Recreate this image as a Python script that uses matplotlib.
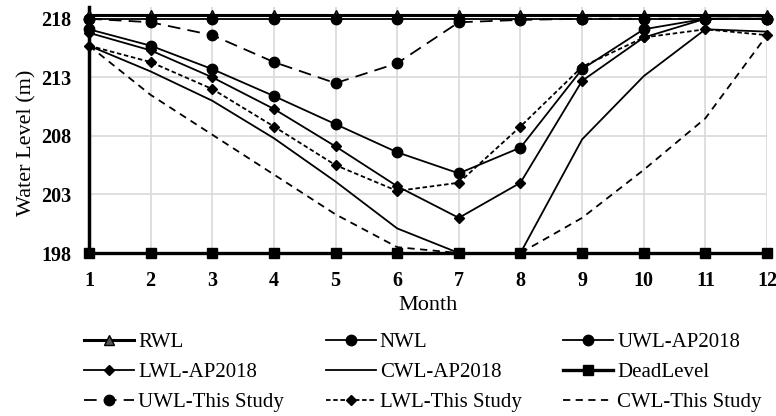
import matplotlib
matplotlib.use("Agg")
import matplotlib.pyplot as plt

# data
months = [1, 2, 3, 4, 5, 6, 7, 8, 9, 10, 11, 12]
rwl = [218.3, 218.3, 218.3, 218.3, 218.3, 218.3, 218.3, 218.3, 218.3, 218.3, 218.3, 218.3]
nwl = [218.0, 218.0, 218.0, 218.0, 218.0, 218.0, 218.0, 218.0, 218.0, 218.0, 218.0, 218.0]
uwl_ap = [217.1, 215.7, 213.7, 211.4, 209.0, 206.6, 204.8, 207.0, 213.7, 217.1, 218.0, 218.0]
lwl_ap = [216.8, 215.3, 213.0, 210.3, 207.1, 203.7, 201.0, 204.0, 212.7, 216.4, 218.0, 218.0]
cwl_ap = [215.7, 213.5, 211.0, 207.8, 204.1, 200.1, 198.0, 198.0, 207.7, 213.1, 217.1, 216.9]
dead = [198.0, 198.0, 198.0, 198.0, 198.0, 198.0, 198.0, 198.0, 198.0, 198.0, 198.0, 198.0]
uwl_this = [218.0, 217.7, 216.6, 214.3, 212.5, 214.2, 217.7, 217.9, 218.0, 218.0, 218.0, 218.0]
lwl_this = [215.7, 214.3, 212.0, 208.8, 205.5, 203.3, 204.0, 208.8, 213.9, 216.4, 217.1, 216.6]
cwl_this = [215.7, 211.5, 208.1, 204.7, 201.3, 198.5, 198.0, 198.0, 201.0, 205.1, 209.5, 216.6]
y_ticks = [198, 203, 208, 213, 218]

plt.rcParams["font.family"] = ["Liberation Serif", "DejaVu Serif"]

fig = plt.figure(figsize=(7.76, 4.16), dpi=100)
ax = fig.add_axes([0.1147, 0.3918, 0.8737, 0.5913])

k = "black"
h = {}
h["RWL"], = ax.plot(months, rwl, color=k, lw=2.2, marker="^", ms=7,
                    mfc="#555555", mec=k, label="RWL", zorder=3)
h["NWL"], = ax.plot(months, nwl, color=k, lw=1.3, marker="o", ms=7.5,
                    label="NWL", zorder=4)
h["UWL-AP2018"], = ax.plot(months, uwl_ap, color=k, lw=1.3, marker="o", ms=7.5,
                           label="UWL-AP2018", zorder=4)
h["LWL-AP2018"], = ax.plot(months, lwl_ap, color=k, lw=1.3, marker="D", ms=5,
                           label="LWL-AP2018", zorder=4)
h["CWL-AP2018"], = ax.plot(months, cwl_ap, color=k, lw=1.3, label="CWL-AP2018", zorder=4)
h["DeadLevel"], = ax.plot(months, dead, color=k, lw=2.4, marker="s", ms=7,
                          label="DeadLevel", zorder=5)
h["UWL-This Study"], = ax.plot(months, uwl_this, color=k, lw=1.3, marker="o", ms=7.5,
                               dashes=(7, 4), label="UWL-This Study", zorder=4)
h["LWL-This Study"], = ax.plot(months, lwl_this, color=k, lw=1.3, marker="D", ms=5,
                               dashes=(2.5, 1.5), label="LWL-This Study", zorder=4)
h["CWL-This Study"], = ax.plot(months, cwl_this, color=k, lw=1.3,
                               dashes=(4, 3), label="CWL-This Study", zorder=4)
for line in h.values():
    line.set_clip_on(False)

ax.set_xlim(1, 12)
ax.set_ylim(198, 219)
ax.set_xticks(months)
ax.set_yticks(y_ticks)
ax.grid(True, color="#d9d9d9", lw=1.2, zorder=0)
ax.set_axisbelow(True)
for s in ["top", "right", "bottom"]:
    ax.spines[s].set_visible(False)
ax.spines["left"].set_linewidth(2.5)
ax.tick_params(length=0, labelsize=14.5, pad=13)
for lab in ax.get_xticklabels() + ax.get_yticklabels():
    lab.set_fontweight("bold")

ax.set_xlabel("Month", fontsize=16)
ax.xaxis.set_label_coords(0.5, -0.175)
ax.set_ylabel("Water Level (m)", fontsize=16)
ax.yaxis.set_label_coords(-0.078, 0.45)

# column-wise order so that rows read like the reference
order = ["RWL", "LWL-AP2018", "UWL-This Study",
         "NWL", "CWL-AP2018", "LWL-This Study",
         "UWL-AP2018", "DeadLevel", "CWL-This Study"]
fig.legend([h[n] for n in order], order, ncol=3, loc="upper left",
           bbox_to_anchor=(0.108, 0.20), frameon=False, fontsize=15,
           handlelength=2.4, handletextpad=0.2, columnspacing=2.0,
           labelspacing=0.5, borderpad=0, borderaxespad=0)

fig.savefig("out.png", dpi=100)
